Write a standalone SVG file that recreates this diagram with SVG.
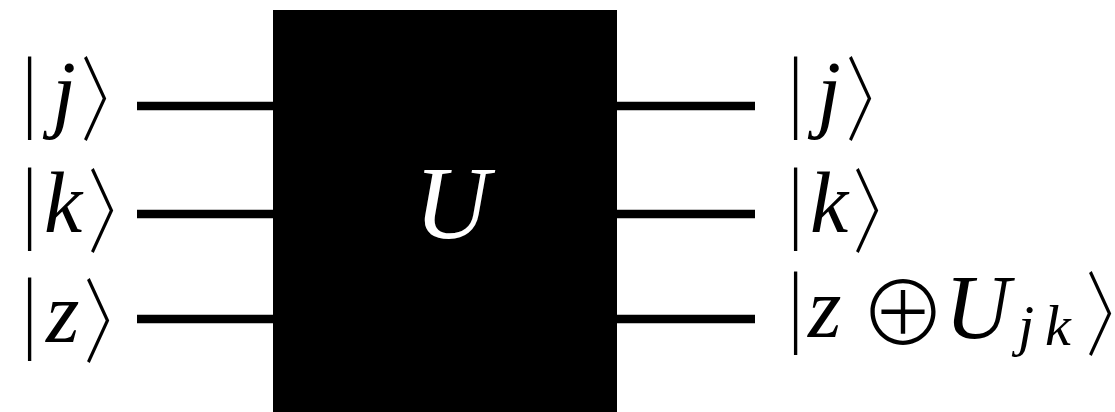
<svg xmlns="http://www.w3.org/2000/svg" width="1115" height="412" viewBox="0 0 1115 412">
<style>
.w{stroke:#000;stroke-width:8.5;fill:none}
.m{font-family:"Liberation Serif","DejaVu Serif",serif;font-style:italic;font-size:86px;fill:#000}
.s{font-family:"Liberation Serif","DejaVu Serif",serif;font-style:italic;font-size:58px;fill:#000}
.b{font-family:Lato,"DejaVu Sans",sans-serif;font-weight:300;font-size:89px;fill:#000}
.a{font-family:"Noto Sans CJK JP",sans-serif;font-weight:300;font-size:92px;fill:#000}
.o{font-family:"Noto Sans CJK JP",sans-serif;font-weight:300;font-size:88px;fill:#000}
</style>
<rect fill="#fff" width="1115" height="412"/>
<g id="connectors">
<line class="w" x1="137" y1="106" x2="274" y2="106"/>
<line class="w" x1="137" y1="214" x2="274" y2="214"/>
<line class="w" x1="137" y1="319" x2="274" y2="319"/>
<line class="w" x1="616" y1="106" x2="755" y2="106"/>
<line class="w" x1="616" y1="214" x2="755" y2="214"/>
<line class="w" x1="616" y1="319" x2="755" y2="319"/>
</g>
<g id="gate-U">
<rect x="273" y="10" width="344" height="410" fill="#000"/>
<text x="452" y="238" text-anchor="middle" style="font-family:'Liberation Serif','DejaVu Serif',serif;font-style:italic;font-size:104px;fill:#fff">U</text>
</g>
<g id="in-j">
<text class="b" x="19" y="124">|</text>
<text class="m" x="52" y="121">j</text>
<text class="a" transform="translate(85 0) scale(0.7 1)" x="-6" y="134">〉</text>
</g>
<g id="in-k">
<text class="b" x="19" y="235">|</text>
<text class="m" x="44" y="232">k</text>
<text class="a" transform="translate(92 0) scale(0.7 1)" x="-6" y="246">〉</text>
</g>
<g id="in-z">
<text class="b" x="19" y="345">|</text>
<text class="m" x="46" y="342">z</text>
<text class="a" transform="translate(88 0) scale(0.7 1)" x="-6" y="356">〉</text>
</g>
<g id="out-j">
<text class="b" x="785" y="124">|</text>
<text class="m" x="817" y="121">j</text>
<text class="a" transform="translate(850 0) scale(0.7 1)" x="-6" y="134">〉</text>
</g>
<g id="out-k">
<text class="b" x="785" y="235">|</text>
<text class="m" x="810" y="232">k</text>
<text class="a" transform="translate(857 0) scale(0.7 1)" x="-6" y="246">〉</text>
</g>
<g id="out-z">
<text class="b" x="785" y="339">|</text>
<text class="m" x="808" y="337">z</text>
<text class="o" x="859" y="345">⊕</text>
<text class="m" x="945" y="338" style="font-size:90px">U</text>
<text class="s" x="1018" y="345">j</text>
<text class="s" x="1045" y="345">k</text>
<text class="a" transform="translate(1090 0) scale(0.7 1)" x="-6" y="349">〉</text>
</g>
</svg>
